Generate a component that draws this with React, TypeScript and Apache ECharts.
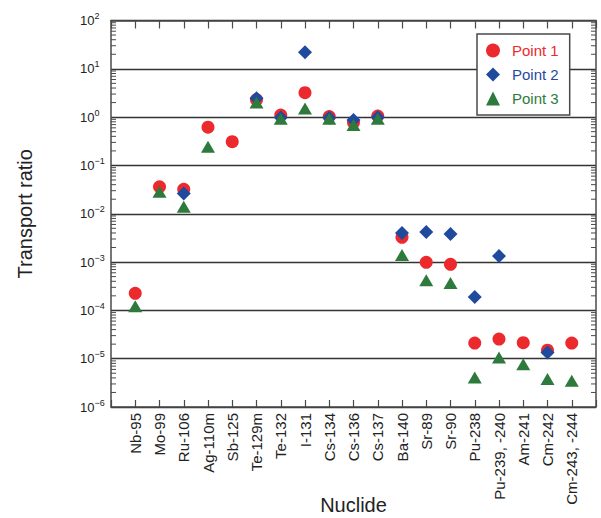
import React, { useEffect, useRef } from 'react';
import * as echarts from 'echarts';

const categories = ['Nb-95', 'Mo-99', 'Ru-106', 'Ag-110m', 'Sb-125', 'Te-129m', 'Te-132', 'I-131', 'Cs-134', 'Cs-136', 'Cs-137', 'Ba-140', 'Sr-89', 'Sr-90', 'Pu-238', 'Pu-239, -240', 'Am-241', 'Cm-242', 'Cm-243, -244'];
const point1: (number | null)[] = [2.25e-4, 0.036, 0.032, 0.62, 0.31, 2.3, 1.1, 3.2, 1.03, 0.77, 1.05, 3.25e-3, 9.9e-4, 9.0e-4, 2.1e-5, 2.55e-5, 2.15e-5, 1.5e-5, 2.1e-5];
const point2: (number | null)[] = [null, null, 0.0264, null, null, 2.45, 0.98, 22, 0.97, 0.87, 1.0, 4.0e-3, 4.2e-3, 3.8e-3, 1.9e-4, 1.33e-3, null, 1.35e-5, null];
const point3: (number | null)[] = [1.22e-4, 0.0286, 0.014, 0.244, null, 2.0, 0.92, 1.5, 0.93, 0.69, 0.93, 1.4e-3, 4.2e-4, 3.7e-4, 4.1e-6, 1.06e-5, 7.7e-6, 3.8e-6, 3.5e-6];
const seriesNames = ['Point 1', 'Point 2', 'Point 3'];
const decades = [-6, -5, -4, -3, -2, -1, 0, 1];
const minorMultipliers = [2, 3, 4, 5, 6, 7, 8, 9];
const yMin = 1e-6;
const yMax = 100;

const RED = '#ec2a2e';
const BLUE = '#1f4a9e';
const GREEN = '#2d7a3c';
const FONT = 'Liberation Sans, Arial, Helvetica, sans-serif';
const FRAME = '#4a4a4a';

const toPoints = (arr: (number | null)[]) =>
  arr.map((v, i) => (v == null ? null : [i, v])).filter((p) => p !== null);

export default function App() {
  const ref = useRef<HTMLDivElement>(null);
  useEffect(() => {
    document.body.style.margin = '0';
    if (!ref.current) return;
    const chart = echarts.init(ref.current, undefined, { renderer: 'svg' });
    const minorValues: number[][] = [];
    decades.forEach((d) => minorMultipliers.forEach((m) => minorValues.push([-1, m * Math.pow(10, d)])));
    const xMin = -1;
    const xMax = categories.length;
    const supFmt = (v: number) => {
      const e = Math.round(Math.log10(v));
      return '{b|10}{s|' + (e < 0 ? '\u2212' + -e : String(e)) + '}';
    };
    chart.setOption({
      animation: false,
      textStyle: { fontFamily: FONT },
      grid: { left: 111, top: 20.5, right: 5, bottom: 111, outerBoundsMode: 'none', containLabel: false },
      legend: {
        orient: 'vertical',
        left: 477,
        top: 34,
        itemWidth: 14,
        itemHeight: 14,
        itemGap: 9,
        padding: [9, 11, 9, 9],
        borderColor: FRAME,
        borderWidth: 1.5,
        backgroundColor: '#fff',
        textStyle: { fontSize: 15, fontFamily: FONT, padding: [0, 0, 0, 7] },
        data: [
          { name: seriesNames[0], textStyle: { color: RED } },
          { name: seriesNames[1], textStyle: { color: BLUE } },
          { name: seriesNames[2], textStyle: { color: GREEN } },
        ],
      },
      xAxis: [
        {
          type: 'value',
          min: xMin,
          max: xMax,
          interval: 1,
          position: 'bottom',
          name: 'Nuclide',
          nameLocation: 'middle',
          nameGap: 88,
          nameMoveOverlap: false,
          nameTextStyle: { fontSize: 20, color: '#222', fontFamily: FONT },
          axisLine: { show: true, onZero: false, lineStyle: { color: FRAME, width: 1.5 } },
          axisTick: { show: true, inside: true, length: 7, lineStyle: { color: FRAME, width: 1.2 } },
          splitLine: { show: false },
          axisLabel: {
            rotate: 90,
            margin: 6,
            fontSize: 15,
            color: '#222',
            fontFamily: FONT,
            formatter: (v: number) => (Number.isInteger(v) && v >= 0 && v < categories.length ? categories[v] : ''),
          },
        },
        {
          type: 'value',
          min: xMin,
          max: xMax,
          interval: 1,
          position: 'top',
          axisLine: { show: true, onZero: false, lineStyle: { color: FRAME, width: 1.5 } },
          axisTick: { show: true, inside: true, length: 8, lineStyle: { color: FRAME, width: 1.2 } },
          splitLine: { show: false },
          axisLabel: { show: false },
        },
      ],
      yAxis: [
        {
          type: 'log',
          logBase: 10,
          min: yMin,
          max: yMax,
          splitNumber: 8,
          position: 'left',
          name: 'Transport ratio',
          nameLocation: 'middle',
          nameGap: 76,
          nameMoveOverlap: false,
          nameTextStyle: { fontSize: 20, color: '#222', fontFamily: FONT },
          axisLine: { show: true, onZero: false, lineStyle: { color: FRAME, width: 1.5 } },
          axisTick: { show: false },
          splitLine: { show: true, lineStyle: { color: '#333', width: 1.3 } },
          axisLabel: {
            align: 'left',
            margin: 31,
            color: '#222',
            formatter: supFmt,
            rich: {
              b: { fontSize: 13, lineHeight: 18, fontFamily: FONT, color: '#222' },
              s: { fontSize: 9, lineHeight: 12, verticalAlign: 'top', fontFamily: FONT, color: '#222' },
            },
          },
        },
        {
          type: 'log',
          logBase: 10,
          min: yMin,
          max: yMax,
          splitNumber: 8,
          position: 'right',
          axisLine: { show: true, onZero: false, lineStyle: { color: FRAME, width: 1.5 } },
          axisTick: { show: false },
          splitLine: { show: false },
          axisLabel: { show: false },
        },
      ],
      series: [
        {
          type: 'custom',
          silent: true,
          xAxisIndex: 0,
          yAxisIndex: 0,
          encode: { x: 0, y: 1 },
          data: minorValues,
          renderItem: (params: any, api: any) => {
            const v = api.value(1);
            const pL = api.coord([xMin, v]);
            const pR = api.coord([xMax, v]);
            const st = { stroke: FRAME, lineWidth: 1 };
            return {
              type: 'group',
              children: [
                { type: 'line', shape: { x1: pL[0], y1: pL[1], x2: pL[0] + 5, y2: pL[1] }, style: st },
                { type: 'line', shape: { x1: pR[0] - 5, y1: pR[1], x2: pR[0], y2: pR[1] }, style: st },
              ],
            };
          },
        },
        {
          name: seriesNames[0],
          type: 'scatter',
          symbol: 'circle',
          symbolSize: 13,
          itemStyle: { color: RED, opacity: 1 },
          data: toPoints(point1),
        },
        {
          name: seriesNames[1],
          type: 'scatter',
          symbol: 'diamond',
          symbolSize: 14,
          itemStyle: { color: BLUE, opacity: 1 },
          data: toPoints(point2),
        },
        {
          name: seriesNames[2],
          type: 'scatter',
          symbol: 'triangle',
          symbolSize: [14, 12],
          itemStyle: { color: GREEN, opacity: 1 },
          data: toPoints(point3),
        },
      ],
    });
    return () => chart.dispose();
  }, []);
  return <div ref={ref} style={{ width: 601, height: 518 }} />;
}
